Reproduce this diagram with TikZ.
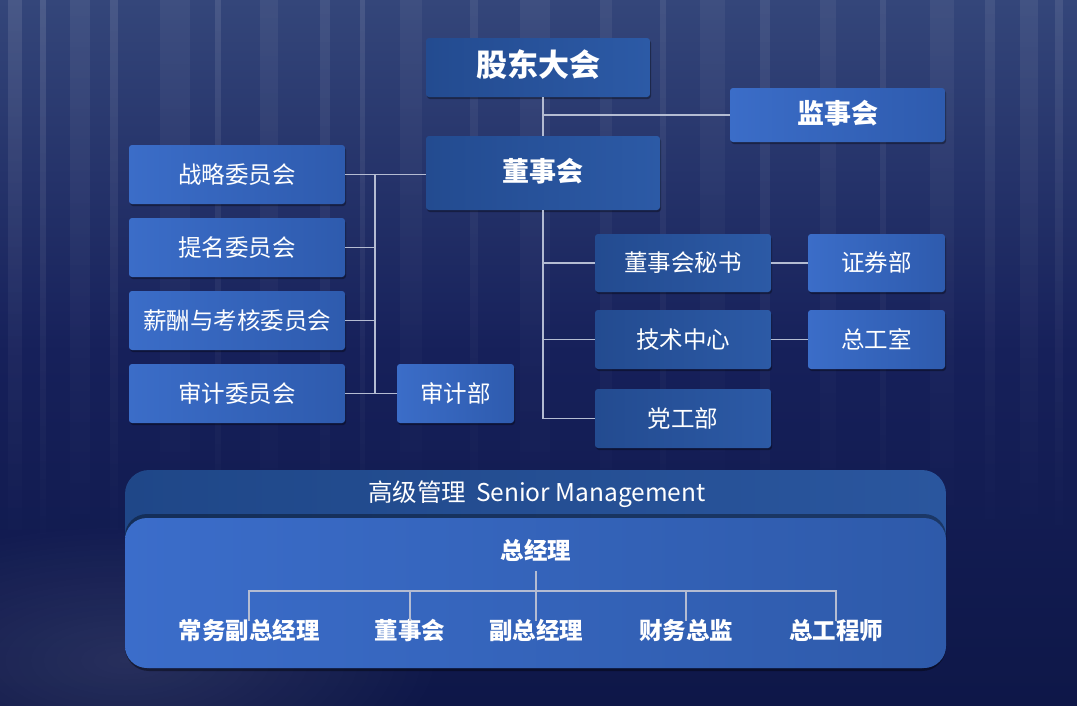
\documentclass[tikz,border=0pt]{standalone}
\usepackage{fontspec}
\setmainfont{Noto Sans CJK SC}
\usetikzlibrary{fadings,shadows}
\definecolor{bgtop}{HTML}{34467A}
\definecolor{bgmid}{HTML}{16205A}
\definecolor{bgbot}{HTML}{0E1748}
\definecolor{darkA}{HTML}{234B90}
\definecolor{darkB}{HTML}{2C5AA6}
\definecolor{liteA}{HTML}{3B6DC8}
\definecolor{liteB}{HTML}{2E5BAE}
\definecolor{lineC}{HTML}{B4BCD2}
\definecolor{outerA}{HTML}{1F4788}
\definecolor{outerB}{HTML}{2A569E}
\definecolor{innerA}{HTML}{3B6DCA}
\definecolor{innerB}{HTML}{2E5AAA}
\tikzfading[name=streakfade, top color=transparent!0, bottom color=transparent!100]
\tikzfading[name=glowfade, inner color=transparent!0, outer color=transparent!100]
\tikzset{
  basebox/.style={rectangle, rounded corners=3pt, inner sep=0pt, text=white,
    text height=1.7em, text depth=0em,
    drop shadow={shadow xshift=1pt, shadow yshift=-2pt, opacity=0.35, fill=black}},
  darkbox/.style={basebox, left color=darkA, right color=darkB},
  litebox/.style={basebox, left color=liteA, right color=liteB},
  conn/.style={draw=lineC, line width=1.4pt},
  txt/.style={inner sep=0pt, text=white, text height=0.86em, text depth=0.14em},
  bigf/.style={font=\fontsize{31}{31}\selectfont\bfseries},
  midf/.style={font=\fontsize{27}{27}\selectfont\bfseries},
  regf/.style={font=\fontsize{23.5}{23.5}\selectfont},
  titf/.style={font=\fontsize{24.5}{24.5}\selectfont},
  botf/.style={font=\fontsize{23.5}{23.5}\selectfont\bfseries},
}
\begin{document}
\begin{tikzpicture}[x=1pt,y=-1pt]
\useasboundingbox (0,0) rectangle (1077,705);
% background
\fill[bgbot] (0,0) rectangle (1077,705);
\shade[top color=bgtop, bottom color=bgbot, middle color=bgmid] (0,0) rectangle (1077,705);
\foreach \sx/\sw/\so in {8/14/0.10, 40/6/0.12, 70/20/0.07, 110/8/0.10, 160/30/0.05, 215/6/0.10, 260/18/0.06, 320/10/0.08, 360/5/0.10, 400/22/0.05, 470/8/0.07, 520/30/0.05, 600/12/0.06, 660/6/0.08, 700/25/0.05, 760/10/0.08, 820/16/0.06, 880/6/0.08, 930/24/0.06, 985/10/0.08, 1020/18/0.07, 1055/8/0.09}{
  \fill[white, opacity=\so, path fading=streakfade, fit fading=true] (\sx,0) rectangle (\sx+\sw,560);
}
\fill[white, opacity=0.10, path fading=glowfade, fit fading=true] (-200,520) rectangle (450,800);

% top section
\node[darkbox, bigf, minimum width=224pt, minimum height=59pt] (gd) at (538,67.5) {股东大会};
\node[litebox, midf, minimum width=215pt, minimum height=54pt] (jsh) at (837.5,115) {监事会};
\node[darkbox, midf, minimum width=234pt, minimum height=74pt] (dsh) at (543,173) {董事会};

\node[litebox, regf, minimum width=216pt, minimum height=59pt] (zl) at (237,174.5) {战略委员会};
\node[litebox, regf, minimum width=216pt, minimum height=59pt] (tm) at (237,247.5) {提名委员会};
\node[litebox, regf, minimum width=216pt, minimum height=59pt] (xc) at (237,320.5) {薪酬与考核委员会};
\node[litebox, regf, minimum width=216pt, minimum height=59pt] (sj) at (237,393.5) {审计委员会};
\node[litebox, regf, minimum width=117pt, minimum height=59pt] (sjb) at (455.5,393.5) {审计部};

\node[darkbox, regf, minimum width=176pt, minimum height=58pt] (ms) at (683,263) {董事会秘书};
\node[darkbox, regf, minimum width=176pt, minimum height=59pt] (jszx) at (683,339.5) {技术中心};
\node[darkbox, regf, minimum width=176pt, minimum height=59pt] (dg) at (683,418.5) {党工部};
\node[litebox, regf, minimum width=137pt, minimum height=58pt] (zq) at (876.5,263) {证券部};
\node[litebox, regf, minimum width=137pt, minimum height=59pt] (zg) at (876.5,339.5) {总工室};

\coordinate (lb) at (375,174.5);

% connectors top
\draw[conn] (dsh.north) -- (dsh.north |- gd.south);
\draw[conn] (jsh.west) -- (jsh.west -| dsh.north);
\draw[conn] (zl.east) -- (zl.east -| dsh.west);
\draw[conn] (lb) -- (lb |- sj.east);
\draw[conn] (tm.east) -- (tm.east -| lb);
\draw[conn] (xc.east) -- (xc.east -| lb);
\draw[conn] (sj.east) -- (sjb.west);
\draw[conn] (dsh.south) -- (dsh.south |- dg.west);
\draw[conn] (ms.west) -- (ms.west -| dsh.south);
\draw[conn] (jszx.west) -- (jszx.west -| dsh.south);
\draw[conn] (dg.west) -- (dg.west -| dsh.south);
\draw[conn] (ms.east) -- (zq.west);
\draw[conn] (jszx.east) -- (zg.west);

% bottom section
\path[left color=outerA, right color=outerB, rounded corners=24pt,
  drop shadow={shadow xshift=0pt, shadow yshift=-3pt, opacity=0.4, fill=black}]
  (125,470) rectangle (946,668);
\path[left color=innerA, right color=innerB, rounded corners=22pt,
  drop shadow={shadow xshift=0pt, shadow yshift=4pt, opacity=0.35, fill=black}]
  (125,518) rectangle (946,668);
\node[txt, titf] (title) at (537,498) {高级管理\hspace{0.4em}Senior Management};

\node[txt, botf, minimum height=30pt] (zjl) at (536,556) {总经理};
\node[txt, botf, minimum height=30pt] (cw) at (249,636) {常务副总经理};
\node[txt, botf, minimum height=30pt] (dsh2) at (410,636) {董事会};
\node[txt, botf, minimum height=30pt] (fz) at (536,636) {副总经理};
\node[txt, botf, minimum height=30pt] (cwzj) at (686,636) {财务总监};
\node[txt, botf, minimum height=30pt] (zgcs) at (836,636) {总工程师};
\coordinate (bus) at (536,591);

\draw[conn, line width=1.2pt] (zjl.south) -- (fz.north);
\draw[conn, line width=1.2pt] (cw.north) -- (cw.north |- bus) -- (zgcs.north |- bus) -- (zgcs.north);
\draw[conn, line width=1.2pt] (dsh2.north) -- (dsh2.north |- bus);
\draw[conn, line width=1.2pt] (cwzj.north) -- (cwzj.north |- bus);
\end{tikzpicture}
\end{document}
